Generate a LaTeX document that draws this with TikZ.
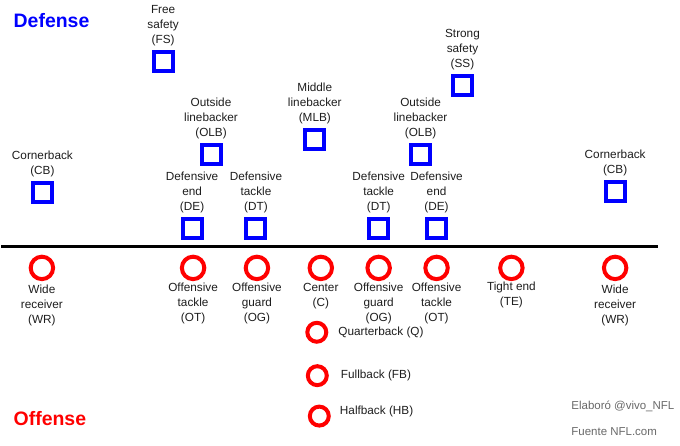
\documentclass[tikz,border=0pt]{standalone}
\usepackage{fontspec}
\setmainfont{Liberation Sans}
\usetikzlibrary{positioning}
\definecolor{defblue}{RGB}{0,0,255}
\definecolor{offred}{RGB}{255,0,0}
\definecolor{labtext}{RGB}{30,30,30}
\definecolor{credgray}{RGB}{105,105,105}
\tikzset{
	dpos/.style={draw=defblue,line width=4pt,minimum size=19pt,inner sep=0pt},
	opos/.style={draw=offred,circle,line width=4pt,minimum size=22.5pt,inner sep=0pt},
	bpos/.style={opos,minimum size=19pt},
	plab/.style={align=center,inner sep=0pt,text=labtext,font=\fontsize{11.8}{15}\selectfont},
	side/.style={anchor=west,inner sep=0pt,font=\fontsize{19.5}{22}\selectfont\bfseries},
	cred/.style={anchor=west,inner sep=0pt,text=credgray,font=\fontsize{11.5}{14}\selectfont},
}
\begin{document}
\begin{tikzpicture}[x=1pt,y=-1pt]
	\path[fill=white] (0,0) rectangle (680,446);
	\coordinate (L1) at (0,247.5);
	\coordinate (L2) at (658,247.5);
	\draw[line width=3pt] (L1)--(L2);
	% defense
	\node[side,text=defblue] (DEF) at (12,21) {Defense};
	\node[dpos] (FS) at (162,62) {};
	\node[dpos] (SS) at (462,86) {};
	\node[dpos] (MLB) at (314,140) {};
	\node[dpos] (OLB1) at (210,155) {};
	\node[dpos] (OLB2) at (420,155) {};
	\node[dpos] (CB1) at (41,193) {};
	\node[dpos] (CB2) at (615,192) {};
	\node[dpos] (DE1) at (191,229) {};
	\node[dpos] (DT1) at (255,229) {};
	\node[dpos] (DT2) at (378,229) {};
	\node[dpos] (DE2) at (436,229) {};
	\node[plab,above=4pt of FS] (FSl) {Free\\safety\\(FS)};
	\node[plab,above=4pt of SS] (SSl) {Strong\\safety\\(SS)};
	\node[plab,above=4pt of MLB] (MLBl) {Middle\\linebacker\\(MLB)};
	\node[plab,above=4pt of OLB1] (OLB1l) {Outside\\linebacker\\(OLB)};
	\node[plab,above=4pt of OLB2] (OLB2l) {Outside\\linebacker\\(OLB)};
	\node[plab,above=4pt of CB1] (CB1l) {Cornerback\\(CB)};
	\node[plab,above=4pt of CB2] (CB2l) {Cornerback\\(CB)};
	\node[plab,above=4pt of DE1] (DE1l) {Defensive\\end\\(DE)};
	\node[plab,above=4pt of DT1] (DT1l) {Defensive\\tackle\\(DT)};
	\node[plab,above=4pt of DT2] (DT2l) {Defensive\\tackle\\(DT)};
	\node[plab,above=4pt of DE2] (DE2l) {Defensive\\end\\(DE)};
	% offense
	\node[side,text=offred] (OFF) at (12,419) {Offense};
	\node[opos] (WR1) at (40.5,268.5) {};
	\node[opos] (OT1) at (192,268.5) {};
	\node[opos] (OG1) at (256,268.5) {};
	\node[opos] (C) at (320,268.5) {};
	\node[opos] (OG2) at (378,268.5) {};
	\node[opos] (OT2) at (436,268.5) {};
	\node[opos] (TE) at (511,268.5) {};
	\node[opos] (WR2) at (615,268.5) {};
	\node[plab,below=4pt of WR1] (WR1l) {Wide\\receiver\\(WR)};
	\node[plab,below=2pt of OT1] (OT1l) {Offensive\\tackle\\(OT)};
	\node[plab,below=2pt of OG1] (OG1l) {Offensive\\guard\\(OG)};
	\node[plab,below=2pt of C] (Cl) {Center\\(C)};
	\node[plab,below=2pt of OG2] (OG2l) {Offensive\\guard\\(OG)};
	\node[plab,below=2pt of OT2] (OT2l) {Offensive\\tackle\\(OT)};
	\node[plab,below=1pt of TE] (TEl) {Tight end\\(TE)};
	\node[plab,below=4pt of WR2] (WR2l) {Wide\\receiver\\(WR)};
	\node[bpos] (Q) at (316,333) {};
	\node[bpos] (FB) at (316.5,376.5) {};
	\node[bpos] (HB) at (318.5,417) {};
	\node[plab,right=10pt of Q] (Ql) {Quarterback (Q)};
	\node[plab,right=12pt of FB] (FBl) {Fullback (FB)};
	\node[plab,right=9pt of HB,yshift=5pt] (HBl) {Halfback (HB)};
	% credits
	\node[cred] (E1) at (571,407) {Elaboró @vivo\_NFL};
	\node[cred] (E2) at (571,433) {Fuente NFL.com};
\end{tikzpicture}
\end{document}
